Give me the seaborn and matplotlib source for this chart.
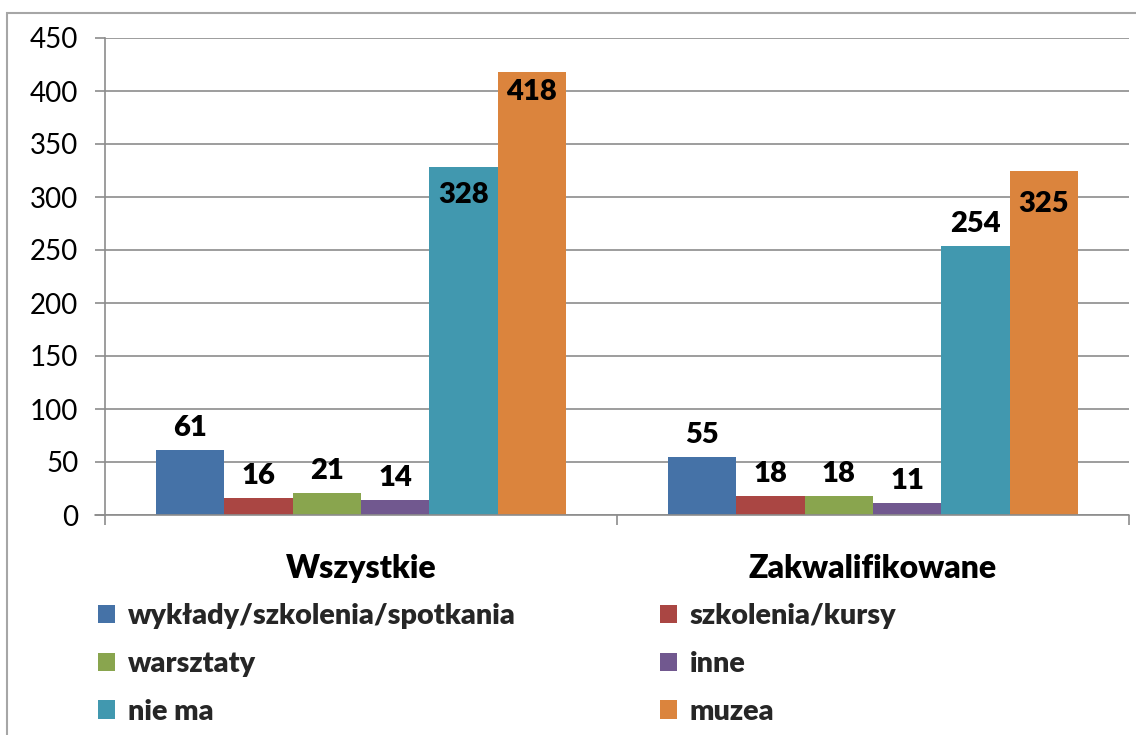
import matplotlib
matplotlib.use("Agg")
import matplotlib.pyplot as plt
import seaborn as sns
import pandas as pd
from matplotlib.patches import Rectangle, Patch

groups = ["Wszystkie", "Zakwalifikowane"]
categories = ["wykłady/szkolenia/spotkania", "szkolenia/kursy", "warsztaty",
              "inne", "nie ma", "muzea"]
values_wszystkie = [61, 16, 21, 14, 328, 418]
values_zakwalifikowane = [55, 18, 18, 11, 254, 325]
colors = ["#4572A7", "#AA4643", "#89A54E", "#71588F", "#4198AF", "#DB843D"]
yticks = [0, 50, 100, 150, 200, 250, 300, 350, 400, 450]

rows = []
for g, vals in zip(groups, [values_wszystkie, values_zakwalifikowane]):
    for c, v in zip(categories, vals):
        rows.append({"group": g, "category": c, "value": v})
df = pd.DataFrame(rows)

sns.set_theme(style="white")
plt.rcParams["font.family"] = ["Lato", "DejaVu Sans"]

DPI = 100
fig = plt.figure(figsize=(11.36, 7.35), dpi=DPI)
W, H = 1136, 735
ax = fig.add_axes([105 / W, 1 - 515 / H, (1129 - 105) / W, (515 - 38) / H])

sns.barplot(data=df, x="group", y="value", hue="category", order=groups,
            hue_order=categories, palette=colors, saturation=1, width=0.8,
            ax=ax, legend=False, edgecolor="none", linewidth=0)

BOLD = "heavy"
ax.set_ylim(0, 450)
ax.set_xlim(-0.5, 1.5)
ax.set_yticks(yticks)
ax.set_yticklabels([str(t) for t in yticks], fontsize=20, color="black")
ax.set_xlabel("")
ax.set_ylabel("")
ax.yaxis.grid(True, color="#8c8c8c", linewidth=1.2)
ax.set_axisbelow(True)
for s in ["top", "right", "bottom"]:
    ax.spines[s].set_visible(False)
ax.spines["left"].set_color("#8c8c8c")
ax.spines["left"].set_linewidth(1.2)
ax.tick_params(axis="y", length=7.2, width=1.2, color="#8c8c8c", pad=12, left=True)
ax.set_xticks([0, 1])
ax.set_xticklabels(groups, fontsize=23, fontweight=BOLD, color="black")
ax.tick_params(axis="x", which="major", length=0, pad=28)
ax.set_xticks([-0.5, 0.5, 1.5], minor=True)
ax.tick_params(axis="x", which="minor", length=7.2, width=1.2, color="#8c8c8c",
               bottom=True, direction="out")
ax.axhline(0, color="#8c8c8c", linewidth=1.2, xmin=-10 / 1024, xmax=1, clip_on=False)

# data labels: offsets in px from bar top (positive = above)
px2pt = 72 / DPI
label_offsets = {("Wszystkie", "nie ma"): -28, ("Wszystkie", "muzea"): -20,
                 ("Zakwalifikowane", "muzea"): -34}
for ci, cont in enumerate(ax.containers):
    for gi, bar in enumerate(cont):
        val = [values_wszystkie, values_zakwalifikowane][gi][ci]
        off = label_offsets.get((groups[gi], categories[ci]), 22)
        ax.annotate(str(val), (bar.get_x() + bar.get_width() / 2, bar.get_height()),
                    xytext=(0, off * px2pt), textcoords="offset points",
                    ha="center", va="center", fontsize=21, fontweight=BOLD,
                    color="black")

# legend in two columns
handles = [Patch(facecolor=c, edgecolor="none") for c in colors]
leg_kw = dict(frameon=False, prop={"size": 20.7, "weight": BOLD}, handlelength=0.6,
              handleheight=0.6, handletextpad=0.43, labelspacing=0.76,
              loc="upper left", borderaxespad=0, borderpad=0)
leg1 = fig.legend([handles[i] for i in (0, 2, 4)], [categories[i] for i in (0, 2, 4)],
                  bbox_to_anchor=(98 / W, 1 - 603 / H), **leg_kw)
leg2 = fig.legend([handles[i] for i in (1, 3, 5)], [categories[i] for i in (1, 3, 5)],
                  bbox_to_anchor=(660 / W, 1 - 603 / H), **leg_kw)

# outer chart frame
fig.patches.append(Rectangle((7 / W, -0.05), 1.2, 1 - 13 / H + 0.05,
                             transform=fig.transFigure, fill=False,
                             edgecolor="#a6a6a6", linewidth=1.5))

fig.savefig("out.png", dpi=DPI)
